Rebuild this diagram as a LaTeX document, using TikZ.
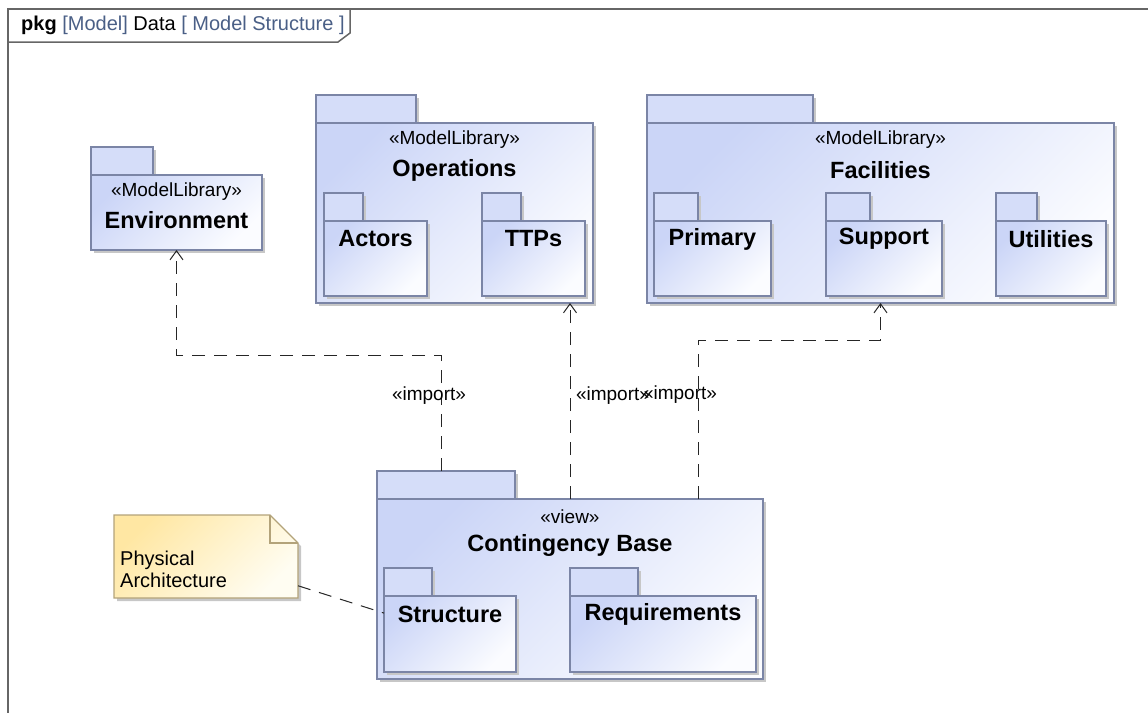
\documentclass[tikz,border=0pt]{standalone}
\usepackage{fontspec}
\setmainfont{Liberation Sans}
\usetikzlibrary{positioning,shadows,arrows.meta}

\definecolor{pkgtop}{HTML}{CBD5F7}
\definecolor{pkgbot}{HTML}{FBFCFF}
\definecolor{tabfill}{HTML}{D5DDF9}
\definecolor{pkgline}{HTML}{7B85A6}
\definecolor{notetop}{HTML}{FFE7A3}
\definecolor{notebot}{HTML}{FFFDF2}
\definecolor{noteline}{HTML}{B3A37A}
\definecolor{hdrblue}{HTML}{4A5F86}

\tikzset{
  pkg shadow/.style={drop shadow={shadow xshift=3pt, shadow yshift=-3pt, fill=black!22, opacity=1}},
  pkg tab/.style={draw=pkgline, line width=1.3pt, fill=tabfill, minimum height=28pt, inner sep=0, outer sep=0, anchor=north west, pkg shadow},
  pkg body/.style={draw=pkgline, line width=1.3pt, top color=pkgtop, bottom color=pkgbot, shading angle=45, inner sep=0, outer sep=0, anchor=north west, pkg shadow},
  stereo text/.style={font=\fontsize{19}{22}\selectfont, inner sep=0},
  name text/.style={font=\bfseries\fontsize{23.5}{26}\selectfont, inner sep=0},
  label text/.style={font=\fontsize{19}{22}\selectfont, inner sep=0},
  import line/.style={draw=black!85, line width=1pt, dash pattern=on 13pt off 9pt, -{Straight Barb[length=9pt, width=13pt, line width=1pt]}},
  note line/.style={draw=noteline, line width=1.2pt},
  frame line/.style={draw=black!60, line width=1.5pt}
}

\begin{document}
\begin{tikzpicture}[x=1pt, y=-1pt]
  \useasboundingbox (0,0) rectangle (1148,713);

  % frame
  \draw[frame line] (1148,9) -- (8,9) -- (8,713);
  \draw[frame line] (8,42) -- (338,42) -- (350,33) -- (350,9);
  \node[label text, font=\fontsize{20}{23}\selectfont, anchor=west] (hdr) at (21,25) {\textbf{pkg} \textcolor{hdrblue}{[Model]} Data \textcolor{hdrblue}{[ Model Structure ]}};

  % Environment
  \node[pkg tab, minimum width=62pt] (envtab) at (91,147) {};
  \node[pkg body, minimum width=171pt, minimum height=75pt] (env) at (envtab.south west) {};
  \node[stereo text] (envst) at ([yshift=-17pt]env.north) {«ModelLibrary»};
  \node[name text] (envnm) at ([yshift=-45pt]env.north) {Environment};

  % Operations
  \node[pkg tab, minimum width=100pt] (opstab) at (316,95) {};
  \node[pkg body, minimum width=277pt, minimum height=180pt] (ops) at (opstab.south west) {};
  \node[stereo text] (opsst) at ([yshift=-17pt]ops.north) {«ModelLibrary»};
  \node[name text] (opsnm) at ([yshift=-47pt]ops.north) {Operations};

  \node[pkg tab, minimum width=39pt] (acttab) at (324,193) {};
  \node[pkg body, minimum width=103pt, minimum height=75pt] (act) at (acttab.south west) {};
  \node[name text] (actnm) at ([yshift=-18pt]act.north) {Actors};

  \node[pkg tab, minimum width=39pt] (ttptab) at (482,193) {};
  \node[pkg body, minimum width=103pt, minimum height=75pt] (ttp) at (ttptab.south west) {};
  \node[name text] (ttpnm) at ([yshift=-18pt]ttp.north) {TTPs};

  % Facilities
  \node[pkg tab, minimum width=166pt] (factab) at (647,95) {};
  \node[pkg body, minimum width=467pt, minimum height=180pt] (fac) at (factab.south west) {};
  \node[stereo text] (facst) at ([yshift=-17pt]fac.north) {«ModelLibrary»};
  \node[name text] (facnm) at ([yshift=-47pt]fac.north) {Facilities};

  \node[pkg tab, minimum width=44pt] (pritab) at (654,193) {};
  \node[pkg body, minimum width=117pt, minimum height=75pt] (pri) at (pritab.south west) {};
  \node[name text] (prinm) at ([yshift=-18pt]pri.north) {Primary};

  \node[pkg tab, minimum width=44pt] (suptab) at (826,193) {};
  \node[pkg body, minimum width=116pt, minimum height=75pt] (sup) at (suptab.south west) {};
  \node[name text] (supnm) at ([yshift=-18pt]sup.north) {Support};

  \node[pkg tab, minimum width=41pt] (utltab) at (996,193) {};
  \node[pkg body, minimum width=110pt, minimum height=75pt] (utl) at (utltab.south west) {};
  \node[name text] (utlnm) at ([yshift=-18pt]utl.north) {Utilities};

  % Contingency Base
  \node[pkg tab, minimum width=138pt] (cbtab) at (377,471) {};
  \node[pkg body, minimum width=386pt, minimum height=180pt] (cb) at (cbtab.south west) {};
  \node[stereo text] (cbst) at ([yshift=-18pt]cb.north) {«view»};
  \node[name text] (cbnm) at ([yshift=-46pt]cb.north) {Contingency Base};

  \node[pkg tab, minimum width=48pt] (strtab) at (384,568) {};
  \node[pkg body, minimum width=132pt, minimum height=76pt] (str) at (strtab.south west) {};
  \node[name text] (strnm) at ([yshift=-18pt]str.north) {Structure};

  \node[pkg tab, minimum width=68pt] (reqtab) at (570,568) {};
  \node[pkg body, minimum width=186pt, minimum height=76pt] (req) at (reqtab.south west) {};
  \node[name text] (reqnm) at ([yshift=-18pt]req.north) {Requirements};

  % note
  \node[minimum width=184pt, minimum height=83pt, inner sep=0, outer sep=0, anchor=north west] (note) at (114,515) {};
  \draw[note line, top color=notetop, bottom color=notebot, shading angle=45, pkg shadow] (note.north west) -- ([xshift=-28pt]note.north east) -- ([yshift=-28pt]note.north east) -- (note.south east) -- (note.south west) -- cycle;
  \draw[note line] ([xshift=-28pt]note.north east) |- ([yshift=-28pt]note.north east);
  \node[label text, font=\fontsize{20}{22}\selectfont, anchor=west, align=left] (notelbl) at ([xshift=6pt, yshift=-13pt]note.west) {Physical\\Architecture};

  % imports
  \draw[import line] ([xshift=-5pt]cbtab.north) -- ++(0,-116) node[label text, pos=0.65, xshift=-12pt] (imp1) {«import»} -| (env.south);
  \draw[import line] (cb.north) -- (cb.north |- ops.south) node[label text, pos=0.53, xshift=43pt] (imp2) {«import»};
  \draw[import line] ([xshift=128pt]cb.north) -- ++(0,-159) node[label text, pos=0.654, xshift=-18pt] (imp3) {«import»} -| (fac.south);
  \draw[draw=black!85, line width=1pt, dash pattern=on 13pt off 9pt] (note) -- (str);
\end{tikzpicture}
\end{document}
